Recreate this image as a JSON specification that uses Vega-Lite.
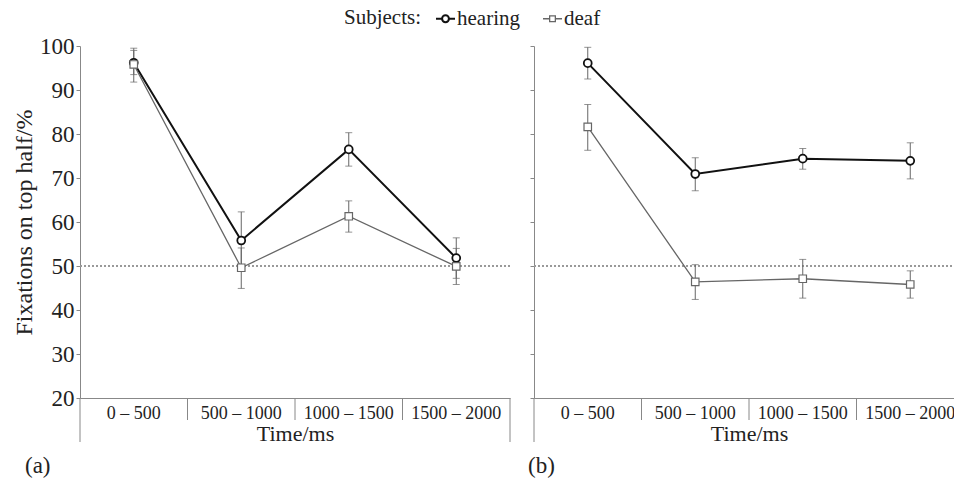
{
  "$schema": "https://vega.github.io/schema/vega-lite/v6.json",
  "padding": {"left": 12, "top": 8, "right": 0, "bottom": 0},
  "config": {
    "view": {"stroke": null},
    "font": "Liberation Serif",
    "axis": {"domainColor": "#888", "tickColor": "#888", "labelColor": "#222", "titleColor": "#222", "labelFont": "Liberation Serif", "titleFont": "Liberation Serif", "titleFontWeight": "normal", "grid": false}
  },
  "datasets": {
    "d": [
      {"panel": "a", "subject": "hearing", "t": "0 – 500", "mean": 96.2, "lo": 93.5, "hi": 99.0},
      {"panel": "a", "subject": "hearing", "t": "500 – 1000", "mean": 55.8, "lo": 49.5, "hi": 62.3},
      {"panel": "a", "subject": "hearing", "t": "1000 – 1500", "mean": 76.5, "lo": 72.7, "hi": 80.3},
      {"panel": "a", "subject": "hearing", "t": "1500 – 2000", "mean": 51.8, "lo": 47.2, "hi": 56.4},
      {"panel": "a", "subject": "deaf", "t": "0 – 500", "mean": 95.8, "lo": 91.8, "hi": 99.5},
      {"panel": "a", "subject": "deaf", "t": "500 – 1000", "mean": 49.6, "lo": 44.9, "hi": 54.1},
      {"panel": "a", "subject": "deaf", "t": "1000 – 1500", "mean": 61.3, "lo": 57.7, "hi": 64.8},
      {"panel": "a", "subject": "deaf", "t": "1500 – 2000", "mean": 49.9, "lo": 45.8, "hi": 54.0},
      {"panel": "b", "subject": "hearing", "t": "0 – 500", "mean": 96.1, "lo": 92.5, "hi": 99.7},
      {"panel": "b", "subject": "hearing", "t": "500 – 1000", "mean": 70.9, "lo": 67.1, "hi": 74.6},
      {"panel": "b", "subject": "hearing", "t": "1000 – 1500", "mean": 74.4, "lo": 72.0, "hi": 76.7},
      {"panel": "b", "subject": "hearing", "t": "1500 – 2000", "mean": 73.9, "lo": 69.8, "hi": 78.0},
      {"panel": "b", "subject": "deaf", "t": "0 – 500", "mean": 81.6, "lo": 76.3, "hi": 86.7},
      {"panel": "b", "subject": "deaf", "t": "500 – 1000", "mean": 46.4, "lo": 42.4, "hi": 50.3},
      {"panel": "b", "subject": "deaf", "t": "1000 – 1500", "mean": 47.1, "lo": 42.7, "hi": 51.5},
      {"panel": "b", "subject": "deaf", "t": "1500 – 2000", "mean": 45.8, "lo": 42.7, "hi": 48.9}
    ],
    "cats": [
      {"t": "0 – 500", "pos": "first"},
      {"t": "500 – 1000", "pos": "inner"},
      {"t": "1000 – 1500", "pos": "inner"},
      {"t": "1500 – 2000", "pos": "last"}
    ]
  },
  "spacing": 17,
  "hconcat": [
    {
      "width": 430,
      "height": 352,
      "title": {"text": "(a)", "orient": "bottom", "anchor": "start", "frame": "group", "dx": -55, "offset": 11, "fontSize": 23, "fontWeight": "normal", "font": "Liberation Serif", "color": "#222"},
      "encoding": {
        "x": {"field": "t", "type": "nominal", "sort": null, "title": "Time/ms",
          "scale": {"domain": ["0 – 500", "500 – 1000", "1000 – 1500", "1500 – 2000"], "paddingInner": 0, "paddingOuter": 0},
          "axis": {"ticks": false, "labelAngle": 0, "labelFontSize": 18, "labelPadding": 6, "titleFontSize": 22, "titlePadding": 1}}
      },
      "layer": [
        {
          "data": {"name": "cats"},
          "transform": [{"filter": "datum.pos !== 'first'"}],
          "mark": {"type": "rule", "color": "#888", "strokeWidth": 1},
          "encoding": {
            "x": {"field": "t", "type": "nominal", "bandPosition": 0, "sort": null, "title": "Time/ms"},
            "y": {"datum": 20, "type": "quantitative", "title": "Fixations on top half/%"},
            "y2": {"datum": 15}
          }
        },
        {
          "data": {"name": "cats"},
          "transform": [{"filter": "datum.pos === 'first'"}],
          "mark": {"type": "rule", "color": "#888", "strokeWidth": 1},
          "encoding": {
            "x": {"field": "t", "type": "nominal", "bandPosition": 0, "sort": null, "title": "Time/ms"},
            "y": {"datum": 20, "type": "quantitative", "title": "Fixations on top half/%"},
            "y2": {"datum": 10}
          }
        },
        {
          "data": {"name": "cats"},
          "transform": [{"filter": "datum.pos === 'last'"}],
          "mark": {"type": "rule", "color": "#888", "strokeWidth": 1},
          "encoding": {
            "x": {"field": "t", "type": "nominal", "bandPosition": 1, "sort": null, "title": "Time/ms"},
            "y": {"datum": 20, "type": "quantitative", "title": "Fixations on top half/%"},
            "y2": {"datum": 10}
          }
        },
        {
          "data": {"name": "d"},
          "transform": [{"filter": "datum.panel === 'a'"}],
          "layer": [
            {
              "mark": {"type": "rule", "color": "#999", "strokeWidth": 1, "strokeDash": [2, 2]},
              "encoding": {"x": null, "y": {"datum": 50, "type": "quantitative", "title": "Fixations on top half/%"}}
            },
            {
              "mark": {"type": "rule", "color": "#666", "strokeWidth": 1},
              "encoding": {
                "y": {"field": "lo", "type": "quantitative", "title": "Fixations on top half/%"},
                "y2": {"field": "hi"}
              }
            },
            {
              "mark": {"type": "tick", "color": "#666", "thickness": 1, "size": 7, "orient": "horizontal"},
              "encoding": {
                "y": {"field": "lo", "type": "quantitative", "title": "Fixations on top half/%"}
              }
            },
            {
              "mark": {"type": "tick", "color": "#666", "thickness": 1, "size": 7, "orient": "horizontal"},
              "encoding": {
                "y": {"field": "hi", "type": "quantitative", "title": "Fixations on top half/%"}
              }
            },
            {
              "mark": {"type": "line"},
              "encoding": {
                "y": {"field": "mean", "type": "quantitative", "title": "Fixations on top half/%",
                  "scale": {"domain": [20, 100], "nice": false, "zero": false},
                  "axis": {"values": [20, 30, 40, 50, 60, 70, 80, 90, 100], "tickSize": 4, "labelFontSize": 23, "labelPadding": 2, "titleFontSize": 24, "titlePadding": 3}},
                "stroke": {"field": "subject", "type": "nominal", "scale": {"domain": ["hearing", "deaf"], "range": ["#111111", "#666666"]},
                  "legend": {"title": "Subjects:", "orient": "none", "legendX": 264, "legendY": -38, "direction": "horizontal", "titleOrient": "left",
                    "titleFontSize": 21, "titleFontWeight": "normal", "titleFont": "Liberation Serif", "titleColor": "#222",
                    "labelFontSize": 21, "labelFont": "Liberation Serif", "labelColor": "#222",
                    "titlePadding": 14, "columnPadding": 20, "labelOffset": 1, "symbolSize": 361, "symbolStrokeWidth": 1.5, "symbolFillColor": "white",
                    "symbolType": {"expr": "datum.value === 'hearing' ? 'M-1,0H-0.36M0.36,0H1M0.36,0A0.36,0.36 0 1,1 -0.36,0A0.36,0.36 0 1,1 0.36,0' : 'M-1,0H-0.3M0.3,0H1M-0.3,-0.3H0.3V0.3H-0.3Z'"}}},
                "strokeWidth": {"field": "subject", "type": "nominal", "scale": {"domain": ["hearing", "deaf"], "range": [2, 1.3]}, "legend": null}
              }
            },
            {
              "transform": [{"filter": "datum.subject === 'hearing'"}],
              "mark": {"type": "point", "shape": "circle", "filled": true, "fill": "white", "fillOpacity": 1, "opacity": 1, "size": 62, "strokeWidth": 1.8},
              "encoding": {
                "y": {"field": "mean", "type": "quantitative", "title": "Fixations on top half/%"},
                "stroke": {"field": "subject", "type": "nominal", "scale": {"domain": ["hearing", "deaf"], "range": ["#111111", "#666666"]}}
              }
            },
            {
              "transform": [{"filter": "datum.subject === 'deaf'"}],
              "mark": {"type": "point", "shape": "square", "filled": true, "fill": "white", "fillOpacity": 1, "opacity": 1, "size": 56, "strokeWidth": 1.2},
              "encoding": {
                "y": {"field": "mean", "type": "quantitative", "title": "Fixations on top half/%"},
                "stroke": {"field": "subject", "type": "nominal", "scale": {"domain": ["hearing", "deaf"], "range": ["#111111", "#666666"]}}
              }
            }
          ]
        }
      ]
    },
    {
      "width": 430,
      "height": 352,
      "title": {"text": "(b)", "orient": "bottom", "anchor": "start", "frame": "group", "dx": -6, "offset": 11, "fontSize": 23, "fontWeight": "normal", "font": "Liberation Serif", "color": "#222"},
      "encoding": {
        "x": {"field": "t", "type": "nominal", "sort": null, "title": "Time/ms",
          "scale": {"domain": ["0 – 500", "500 – 1000", "1000 – 1500", "1500 – 2000"], "paddingInner": 0, "paddingOuter": 0},
          "axis": {"ticks": false, "labelAngle": 0, "labelFontSize": 18, "labelPadding": 6, "titleFontSize": 22, "titlePadding": 1}}
      },
      "layer": [
        {
          "data": {"name": "cats"},
          "transform": [{"filter": "datum.pos !== 'first'"}],
          "mark": {"type": "rule", "color": "#888", "strokeWidth": 1},
          "encoding": {
            "x": {"field": "t", "type": "nominal", "bandPosition": 0, "sort": null, "title": "Time/ms"},
            "y": {"datum": 20, "type": "quantitative", "title": null},
            "y2": {"datum": 15}
          }
        },
        {
          "data": {"name": "cats"},
          "transform": [{"filter": "datum.pos === 'first'"}],
          "mark": {"type": "rule", "color": "#888", "strokeWidth": 1},
          "encoding": {
            "x": {"field": "t", "type": "nominal", "bandPosition": 0, "sort": null, "title": "Time/ms"},
            "y": {"datum": 20, "type": "quantitative", "title": null},
            "y2": {"datum": 10}
          }
        },
        {
          "data": {"name": "d"},
          "transform": [{"filter": "datum.panel === 'b'"}],
          "layer": [
            {
              "mark": {"type": "rule", "color": "#999", "strokeWidth": 1, "strokeDash": [2, 2]},
              "encoding": {"x": null, "y": {"datum": 50, "type": "quantitative", "title": null}}
            },
            {
              "mark": {"type": "rule", "color": "#666", "strokeWidth": 1},
              "encoding": {
                "y": {"field": "lo", "type": "quantitative", "title": null},
                "y2": {"field": "hi"}
              }
            },
            {
              "mark": {"type": "tick", "color": "#666", "thickness": 1, "size": 7, "orient": "horizontal"},
              "encoding": {
                "y": {"field": "lo", "type": "quantitative", "title": null}
              }
            },
            {
              "mark": {"type": "tick", "color": "#666", "thickness": 1, "size": 7, "orient": "horizontal"},
              "encoding": {
                "y": {"field": "hi", "type": "quantitative", "title": null}
              }
            },
            {
              "mark": {"type": "line"},
              "encoding": {
                "y": {"field": "mean", "type": "quantitative", "title": null,
                  "scale": {"domain": [20, 100], "nice": false, "zero": false},
                  "axis": {"values": [20, 30, 40, 50, 60, 70, 80, 90, 100], "tickSize": 4, "labels": false}},
                "stroke": {"field": "subject", "type": "nominal", "scale": {"domain": ["hearing", "deaf"], "range": ["#111111", "#666666"]}},
                "strokeWidth": {"field": "subject", "type": "nominal", "scale": {"domain": ["hearing", "deaf"], "range": [2, 1.3]}, "legend": null}
              }
            },
            {
              "transform": [{"filter": "datum.subject === 'hearing'"}],
              "mark": {"type": "point", "shape": "circle", "filled": true, "fill": "white", "fillOpacity": 1, "opacity": 1, "size": 62, "strokeWidth": 1.8},
              "encoding": {
                "y": {"field": "mean", "type": "quantitative", "title": null},
                "stroke": {"field": "subject", "type": "nominal", "scale": {"domain": ["hearing", "deaf"], "range": ["#111111", "#666666"]}}
              }
            },
            {
              "transform": [{"filter": "datum.subject === 'deaf'"}],
              "mark": {"type": "point", "shape": "square", "filled": true, "fill": "white", "fillOpacity": 1, "opacity": 1, "size": 56, "strokeWidth": 1.2},
              "encoding": {
                "y": {"field": "mean", "type": "quantitative", "title": null},
                "stroke": {"field": "subject", "type": "nominal", "scale": {"domain": ["hearing", "deaf"], "range": ["#111111", "#666666"]}}
              }
            }
          ]
        }
      ]
    }
  ]
}
